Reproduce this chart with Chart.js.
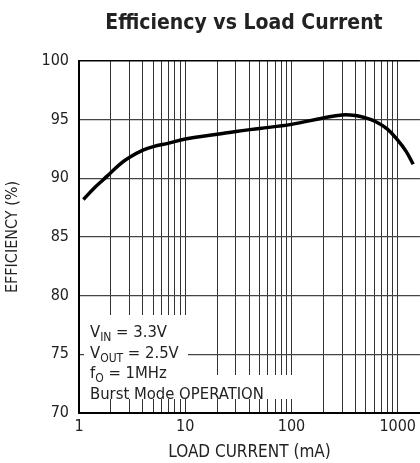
<!DOCTYPE html>
<html>
<head>
<meta charset="utf-8">
<script src="https://cdn.jsdelivr.net/npm/chart.js@4"></script>
<style>
  html, body { margin: 0; padding: 0; background: #fff; overflow: hidden; }
  #wrap { width: 420px; height: 463px; }
</style>
</head>
<body>
<div id="wrap"><canvas id="chart" width="420" height="463"></canvas></div>
<script>
// Efficiency vs load current
const loadCurrent = [1.1, 1.4, 1.7, 2, 2.5, 3, 4, 5, 7, 10, 20, 30, 50, 100, 200, 300, 400, 500, 600, 800, 1000, 1200, 1400];
const efficiency  = [88.2, 89.2, 89.9, 90.5, 91.3, 91.8, 92.4, 92.7, 93.0, 93.35, 93.75, 94.0, 94.25, 94.6, 95.15, 95.4, 95.35, 95.15, 94.9, 94.2, 93.25, 92.3, 91.2];

const xGridTicks = [1, 2, 3, 4, 5, 6, 7, 8, 9, 10, 20, 30, 40, 50, 60, 70, 80, 90, 100, 200, 300, 400, 500, 600, 700, 800, 900, 1000];
const xLabels = [1, 10, 100, 1000];
const yTicks = [70, 75, 80, 85, 90, 95, 100];

const FONT = "'Liberation Sans Narrow', 'DejaVu Sans Condensed', 'Roboto Condensed', sans-serif";
const INK = '#222';

// title + conditions text box
const notes = {
    id: 'notes',
    beforeDatasetsDraw(chart) {
        const ctx = chart.ctx;
        ctx.save();
        ctx.fillStyle = '#fff';
        ctx.fillRect(84, 315, 104, 84);
        ctx.fillRect(84, 375, 209, 24);
        ctx.fillStyle = INK;
        ctx.textBaseline = 'alphabetic';
        const lines = [
            [['V'], ['IN', 1], [' = 3.3V']],
            [['V'], ['OUT', 1], [' = 2.5V']],
            [['f'], ['O', 1], [' = 1MHz']],
            [['Burst Mode OPERATION']]
        ];
        lines.forEach((parts, i) => {
            let x = 90;
            const y = 337 + i * 20.5;
            parts.forEach(p => {
                ctx.font = (p[1] ? '12px ' : '16.5px ') + FONT;
                ctx.fillText(p[0], x, p[1] ? y + 4 : y);
                x += ctx.measureText(p[0]).width;
            });
        });
        ctx.restore();
    },
    afterDraw(chart) {
        const ctx = chart.ctx;
        ctx.save();
        ctx.fillStyle = INK;
        ctx.font = 'bold 21px ' + FONT;
        ctx.textAlign = 'center';
        ctx.textBaseline = 'middle';
        ctx.fillText('Efficiency vs Load Current', 244, 24);
        ctx.restore();
    }
};

new Chart(document.getElementById('chart').getContext('2d'), {
    type: 'line',
    data: {
        datasets: [{
            data: loadCurrent.map((x, i) => ({ x: x, y: efficiency[i] })),
            borderColor: '#000',
            borderWidth: 3.5,
            pointRadius: 0,
            tension: 0.4,
            fill: false
        }]
    },
    options: {
        responsive: false,
        animation: false,
        devicePixelRatio: 1,
        layout: { padding: { top: 61, right: 0, left: 0, bottom: 0 } },
        plugins: { legend: { display: false }, title: { display: false }, tooltip: { enabled: false } },
        scales: {
            x: {
                type: 'logarithmic',
                min: 1,
                max: 1620,
                afterBuildTicks: s => { s.ticks = xGridTicks.map(v => ({ value: v })); },
                afterFit: s => { s.height = 50; },
                grid: { color: '#333', lineWidth: 1, drawTicks: false },
                border: { color: '#000', width: 2 },
                ticks: {
                    autoSkip: false,
                    maxRotation: 0,
                    padding: 4,
                    color: INK,
                    font: { family: FONT, size: 16 },
                    callback: v => xLabels.includes(v) ? String(v) : ''
                },
                title: {
                    display: true,
                    text: 'LOAD CURRENT (mA)',
                    color: INK,
                    font: { family: FONT, size: 17 },
                    padding: { top: 1, bottom: 0 }
                }
            },
            y: {
                min: 70,
                max: 100,
                afterBuildTicks: s => { s.ticks = yTicks.map(v => ({ value: v })); },
                afterFit: s => { s.width = 79; },
                grid: {
                    color: c => c.tick && c.tick.value === 100 ? '#000' : '#444',
                    lineWidth: c => c.tick && c.tick.value === 100 ? 1.5 : 1.2,
                    drawTicks: false
                },
                border: { color: '#000', width: 2 },
                ticks: {
                    padding: 10,
                    color: INK,
                    font: { family: FONT, size: 16 }
                },
                title: {
                    display: true,
                    text: 'EFFICIENCY (%)',
                    color: INK,
                    font: { family: FONT, size: 16 },
                    padding: { top: 3, bottom: 0 }
                }
            }
        }
    },
    plugins: [notes]
});
</script>
</body>
</html>
